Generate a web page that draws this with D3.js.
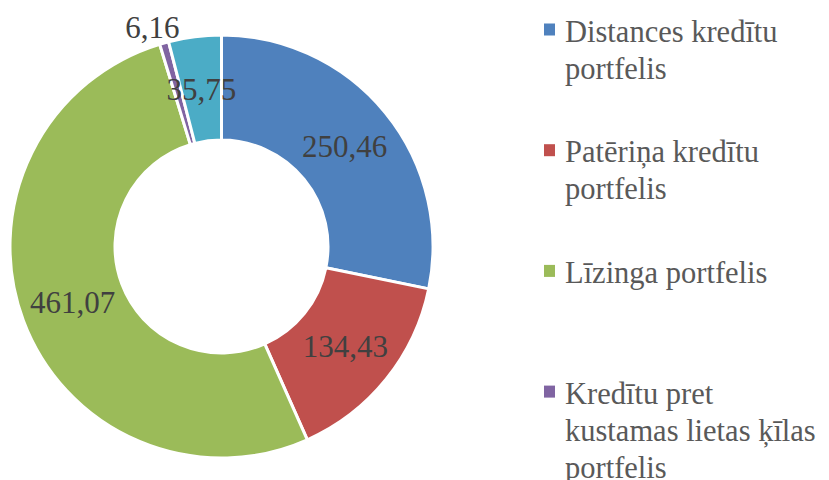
<!DOCTYPE html>
<html><head><meta charset="utf-8">
<script src="https://cdn.jsdelivr.net/npm/d3@7"></script>
<style>html,body{margin:0;padding:0;background:#fff;}svg{display:block;}
text{font-family:"Liberation Serif",Tinos,"Times New Roman","DejaVu Serif",serif;}</style>
</head><body>
<svg id="c" width="829" height="480"></svg>
<script>
const categories = ["Distances kredītu portfelis","Patēriņa kredītu portfelis","Līzinga portfelis","Kredītu pret kustamas lietas ķīlas portfelis","Citi portfeļi"];
const values = [250.46, 134.43, 461.07, 6.16, 35.75];
const labels = ["250,46","134,43","461,07","6,16","35,75"];
const colors = ["#4F81BD","#C0504D","#9BBB59","#8064A2","#4BACC6"];
const legendLines = [["Distances kredītu","portfelis"],["Patēriņa kredītu","portfelis"],["Līzinga portfelis"],["Kredītu pret","kustamas lietas ķīlas","portfelis"],["Citi portfeļi"]];

const svg = d3.select("#c");
const cx = 221.5, cy = 246.5, rOut = 211.5, rIn = 106.5;
const pie = d3.pie().sort(null).value(d => d)(values);
const arc = d3.arc().innerRadius(rIn).outerRadius(rOut);
const g = svg.append("g").attr("transform", `translate(${cx},${cy})`);
g.selectAll("path").data(pie).join("path")
  .attr("d", arc).attr("fill", (d,i) => colors[i])
  .attr("stroke", "#fff").attr("stroke-width", 3).attr("stroke-linejoin","miter");

const labelArc = d3.arc().innerRadius(159).outerRadius(159);
g.selectAll("text.lbl").data(pie).join("text").attr("class","lbl")
  .attr("transform", (d,i) => {
    let p;
    if (i === 3) { const a = (d.startAngle+d.endAngle)/2 - 0.03; p = [230*Math.sin(a), -230*Math.cos(a)]; }
    else p = labelArc.centroid(d);
    return `translate(${p[0]},${p[1]})`;
  })
  .attr("text-anchor","middle").attr("dy","0.35em")
  .attr("font-size", 31).attr("fill","#404040")
  .text((d,i) => labels[i]);

const lg = svg.append("g");
const lineH = 37;
categories.forEach((c,i) => {
  const y0 = 41.5 + i*120.7;
  lg.append("rect").attr("x",544).attr("y",y0-18).attr("width",11).attr("height",12).attr("fill",colors[i]);
  const t = lg.append("text").attr("x",565).attr("y",y0)
    .attr("font-size",30.5).attr("fill","#595959");
  legendLines[i].forEach((ln,j) => {
    t.append("tspan").attr("x",565).attr("y",y0 + j*lineH).text(ln);
  });
});
</script>
</body></html>
